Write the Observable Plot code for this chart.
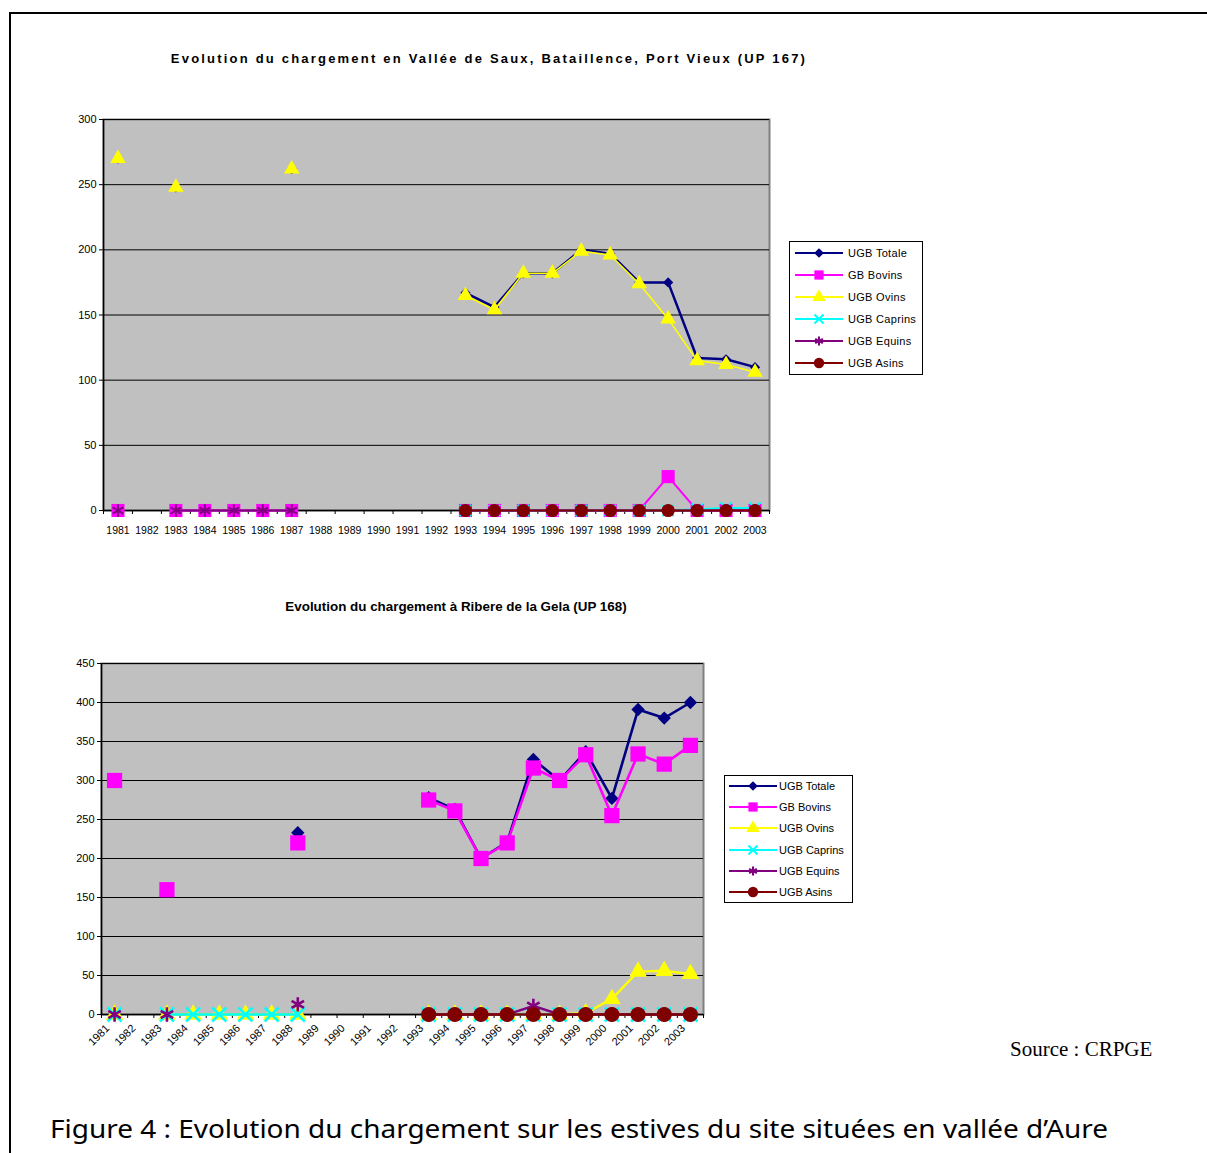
<!DOCTYPE html>
<html><head><meta charset="utf-8">
<script src="https://cdn.jsdelivr.net/npm/d3@7"></script>
<script src="https://cdn.jsdelivr.net/npm/@observablehq/plot@0.6"></script>
<style>
html,body{margin:0;padding:0;}
body{width:1207px;height:1153px;overflow:hidden;background:#fff;font-family:"Liberation Sans",Arial,sans-serif;position:relative;color:#000}
.abs{position:absolute}
#border{left:9px;top:12px;width:1400px;height:1400px;border-left:2px solid #000;border-top:2px solid #000}
#t1{left:0;width:978px;top:51px;text-align:center;font-weight:bold;font-size:13px;letter-spacing:2.2px;white-space:nowrap}
#t2{left:0;width:912px;top:599px;text-align:center;font-weight:bold;font-size:13.4px;white-space:nowrap}
.legend{border:1px solid #000;background:#fff;box-sizing:border-box}
.lrow{position:absolute;display:flex;align-items:center;white-space:nowrap;font-size:11px}
.lrow svg{display:block}
#src{left:1010px;top:1037px;font-family:"Liberation Serif","Times New Roman",serif;font-size:21px;white-space:nowrap}
#cap{left:50px;top:1110px;font-family:"Noto Sans",sans-serif;font-size:26px;white-space:nowrap;transform-origin:0 0}
</style></head><body>
<div id="border" class="abs"></div>
<div id="t1" class="abs">Evolution du chargement en Vallée de Saux, Bataillence, Port Vieux (UP 167)</div>
<div id="c1" class="abs" style="left:0;top:100px"></div>
<div id="l1" class="abs legend" style="left:789px;top:241px;width:134px;height:134px"></div>
<div id="t2" class="abs">Evolution du chargement à Ribere de la Gela (UP 168)</div>
<div id="c2" class="abs" style="left:0;top:640px"></div>
<div id="l2" class="abs legend" style="left:724px;top:775px;width:129px;height:128px"></div>
<div id="src" class="abs">Source : CRPGE</div>
<div id="cap" class="abs">Figure 4 : Evolution du chargement sur les estives du site situées en vallée d’Aure</div>
<script>
// ---------- DATA ----------
const years = [1981,1982,1983,1984,1985,1986,1987,1988,1989,1990,1991,1992,1993,1994,1995,1996,1997,1998,1999,2000,2001,2002,2003];
const seriesNames = ["UGB Totale","GB Bovins","UGB Ovins","UGB Caprins","UGB Equins","UGB Asins"];
const yTicksUP167 = [0,50,100,150,200,250,300];
const yTicksUP168 = [0,50,100,150,200,250,300,350,400,450];

// UP 167 : Vallée de Saux, Bataillence, Port Vieux
const totale167  = [270,null,248,null,null,null,262,null,null,null,null,null,167,156,182,182,200,197,175,175,117,116,110];
const bovins167  = [0,null,0,0,0,0,0,null,null,null,null,null,0,0,0,0,0,0,0,26,0,0,0];
const ovins167   = [270,null,248,null,null,null,262,null,null,null,null,null,165,154,182,182,199,196,174,147,115,112,106];
const caprins167 = [null,null,null,null,null,null,null,null,null,null,null,null,0,0,0,0,0,0,0,0,1,2,2];
const equins167  = [0,null,0,0,0,0,0,null,null,null,null,null,0,0,0,0,0,0,0,0,0,0,0];
const asins167   = [null,null,null,null,null,null,null,null,null,null,null,null,0,0,0,0,0,0,0,0,0,0,0];

// UP 168 : Ribere de la Gela
const totale168  = [300,null,160,null,null,null,null,233,null,null,null,null,278,263,200,221,327,300,337,277,391,380,400];
const bovins168  = [300,null,160,null,null,null,null,220,null,null,null,null,275,261,200,220,316,300,333,255,334,321,345];
const ovins168   = [0,null,0,0,0,0,0,0,null,null,null,null,0,0,0,0,0,0,2,20,55,56,52];
const caprins168 = [0,null,0,0,0,0,0,0,null,null,null,null,0,0,0,0,0,0,0,0,0,0,0];
const equins168  = [0,null,0,null,null,null,null,13,null,null,null,null,0,0,0,0,11,0,0,0,0,0,0];
const asins168   = [null,null,null,null,null,null,null,null,null,null,null,null,0,0,0,0,0,0,0,0,0,0,0];

// ---------- STYLES ----------
const colors  = ["#000080","#ff00ff","#ffff00","#00ffff","#800080","#800000"];
const symbols = ["diamond2","square","triangle","times","asterisk","circle"];
const filled  = [true,true,true,false,false,true];
const d3sym   = [d3.symbolDiamond2,d3.symbolSquare,d3.symbolTriangle,d3.symbolTimes,d3.symbolAsterisk,d3.symbolCircle];

function rowsOf(arr){ return arr.map((v,i)=>({year:years[i], value:v})); }

function chart(cfg){
  const step = (cfg.width - cfg.ml - cfg.mr) / years.length;
  const marks = [
    Plot.frame({fill:"#c0c0c0", stroke:"#808080", strokeWidth:2}),
    Plot.ruleY(cfg.yTicks.filter(v=>v>0), {stroke:"#000", strokeWidth:1}),
    Plot.ruleY([0], {stroke:"#000", strokeWidth:1.3}),
    Plot.ruleX([years[0]], {dx:-step/2, stroke:"#000", strokeWidth:1.5}),
    Plot.axisY({ticks:cfg.yTicks, tickSize:4, tickPadding:3, fontSize:11, tickFormat:d=>String(d), label:null}),
    Plot.axisX({tickSize:4, text:null, dx:-step/2, label:null}),
    Plot.axisX({ticks:[years[years.length-1]], tickSize:4, text:null, dx:step/2, label:null}),
    cfg.rotate
      ? Plot.axisX({tickSize:0, tickRotate:-45, textAnchor:"end", tickPadding:12, dx:-7, fontSize:11, tickFormat:d=>String(d), label:null})
      : Plot.axisX({tickSize:0, tickPadding:16, fontSize:10.5, tickFormat:d=>String(d), label:null})
  ];
  cfg.series.forEach((arr,s)=>{
    const rows = rowsOf(arr);
    marks.push(Plot.line(rows, {x:"year", y:"value", stroke:colors[s], strokeWidth:cfg.lw[s]}));
    const dotOpts = {x:"year", y:"value", symbol:symbols[s], r:cfg.r[s]};
    if (filled[s]) { dotOpts.fill = colors[s]; dotOpts.stroke = "none"; }
    else { dotOpts.stroke = colors[s]; dotOpts.strokeWidth = cfg.sw; dotOpts.fill = "none"; }
    marks.push(Plot.dot(rows, dotOpts));
  });
  return Plot.plot({
    width:cfg.width, height:cfg.height,
    marginLeft:cfg.ml, marginRight:cfg.mr, marginTop:cfg.mt, marginBottom:cfg.mb,
    style:{fontFamily:"Liberation Sans, Arial, sans-serif", fontSize:"11px", background:"transparent", color:"#000", overflow:"visible"},
    x:{type:"point", domain:years, padding:0.5, align:0.5, round:false, axis:null, label:null},
    y:{domain:[cfg.yTicks[0], cfg.yTicks[cfg.yTicks.length-1]], axis:null, label:null},
    marks
  });
}

document.getElementById("c1").appendChild(chart({
  width:780, height:445, ml:103, mr:11, mt:19, mb:35, yTicks:yTicksUP167, rotate:false,
  series:[totale167,bovins167,ovins167,caprins167,equins167,asins167],
  lw:[2.5,2,1.6,2,2,2], r:[4.6,7.4,5.8,5.2,5.8,6.6], sw:2
}));

document.getElementById("c2").appendChild(chart({
  width:714, height:430, ml:101, mr:11, mt:23, mb:56, yTicks:yTicksUP168, rotate:true,
  series:[totale168,bovins168,ovins168,caprins168,equins168,asins168],
  lw:[2.6,2.6,2.4,2.6,2.4,2.6], r:[6,8.6,6.6,6.4,6.8,7.6], sw:2.6
}));

function legend(id, cfg){
  const el = document.getElementById(id);
  seriesNames.forEach((name,i)=>{
    const row = document.createElement("div");
    row.className = "lrow";
    row.style.left = cfg.left + "px";
    row.style.top = (cfg.first + i*cfg.gap - 8) + "px";
    row.style.height = "16px";
    row.style.letterSpacing = cfg.ls + "px";
    const svg = d3.create("svg").attr("width", cfg.lineW).attr("height", 16);
    svg.append("line").attr("x1",0).attr("x2",cfg.lineW).attr("y1",8).attr("y2",8)
      .attr("stroke",colors[i]).attr("stroke-width",2);
    const p = svg.append("path").attr("transform",`translate(${cfg.lineW/2},8)`)
      .attr("d", d3.symbol(d3sym[i], cfg.size[i])());
    if (filled[i]) p.attr("fill",colors[i]); else p.attr("fill","none").attr("stroke",colors[i]).attr("stroke-width",2);
    row.appendChild(svg.node());
    const t = document.createElement("span");
    t.textContent = name;
    t.style.marginLeft = cfg.textGap + "px";
    row.appendChild(t);
    el.appendChild(row);
  });
}
legend("l1", {left:5, first:11, gap:22, lineW:48, textGap:5, ls:0.3, size:[60,85,80,55,55,85]});
legend("l2", {left:4, first:10, gap:21.2, lineW:48, textGap:2, ls:0, size:[60,85,80,55,55,85]});

// fit caption width to the reference span
const cap = document.getElementById("cap");
const w = cap.getBoundingClientRect().width;
cap.style.transform = `scaleX(${1058 / w})`;
</script>
</body></html>
